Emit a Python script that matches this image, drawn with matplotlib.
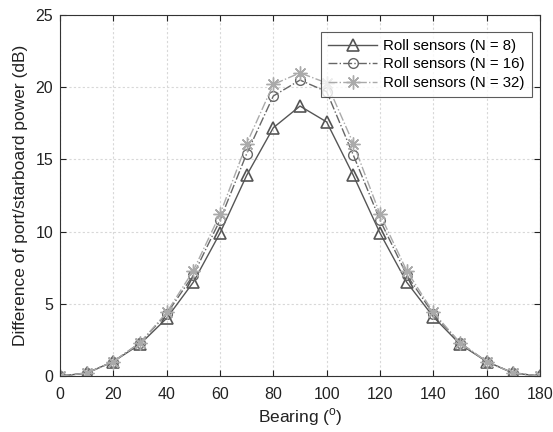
import matplotlib
matplotlib.use("Agg")
import matplotlib.pyplot as plt

bearing = [0, 10, 20, 30, 40, 50, 60, 70, 80, 90, 100, 110, 120, 130, 140, 150, 160, 170, 180]
n8 = [0.0, 0.2, 1.0, 2.2, 4.0, 6.5, 9.9, 13.9, 17.2, 18.7, 17.6, 13.9, 9.9, 6.5, 4.1, 2.2, 1.0, 0.2, 0.0]
n16 = [0.0, 0.2, 1.0, 2.3, 4.3, 7.0, 10.8, 15.4, 19.4, 20.5, 19.7, 15.3, 10.8, 7.0, 4.3, 2.3, 1.0, 0.2, 0.0]
n32 = [0.0, 0.2, 1.0, 2.3, 4.4, 7.3, 11.2, 16.1, 20.2, 21.0, 20.3, 16.1, 11.2, 7.3, 4.4, 2.3, 1.0, 0.2, 0.0]
labels = ["Roll sensors (N = 8)", "Roll sensors (N = 16)", "Roll sensors (N = 32)"]

plt.rcParams['font.family'] = ['Liberation Sans', 'DejaVu Sans']
plt.rcParams['mathtext.fontset'] = 'custom'
plt.rcParams['mathtext.rm'] = 'Liberation Sans'
fig = plt.figure(figsize=(5.53, 4.32), dpi=100)
ax = fig.add_axes([0.1085, 0.1296, 0.868, 0.8354])

ax.plot(bearing, n8, '-', color='#555555', lw=1.0, marker='^', ms=8, mfc='none', mec='#555555', mew=1.2, label=labels[0])
ax.plot(bearing, n16, '-.', color='#666666', lw=1.0, marker='o', ms=7, mfc='none', mec='#666666', mew=1.0, label=labels[1])
ax.plot(bearing, n32, '-.', color='#aaaaaa', lw=1.0, marker=(8, 2, 0), ms=10, mfc='none', mec='#aaaaaa', mew=1.0, label=labels[2])

ax.set_xlim(0, 180)
ax.set_ylim(0, 25)
ax.set_xticks(range(0, 181, 20))
ax.set_yticks(range(0, 26, 5))
ax.grid(True, linestyle=(0, (2, 2)), color='#d8d8d8', lw=0.8)
ax.tick_params(direction='in', top=True, right=True, labelsize=11.5, colors='#222222', length=4)
ax.tick_params(axis='x', pad=8)
ax.tick_params(axis='y', pad=5)
for s in ax.spines.values():
    s.set_color('#333333')
    s.set_linewidth(0.8)
ax.set_xlabel('Bearing ($^{\\mathrm{o}}$)', fontsize=12.5, color='#222222', labelpad=3)
ax.set_ylabel('Difference of port/starboard power (dB)', fontsize=12.5, color='#222222', labelpad=5)
leg = ax.legend(loc='upper right', bbox_to_anchor=(0.983, 0.953), borderaxespad=0, fontsize=10.8, frameon=True,
                fancybox=False, edgecolor='#333333', handlelength=3.3, handletextpad=0.4,
                borderpad=0.45, labelspacing=0.3)
leg.get_frame().set_linewidth(0.8)

fig.savefig('out.png', dpi=100)
